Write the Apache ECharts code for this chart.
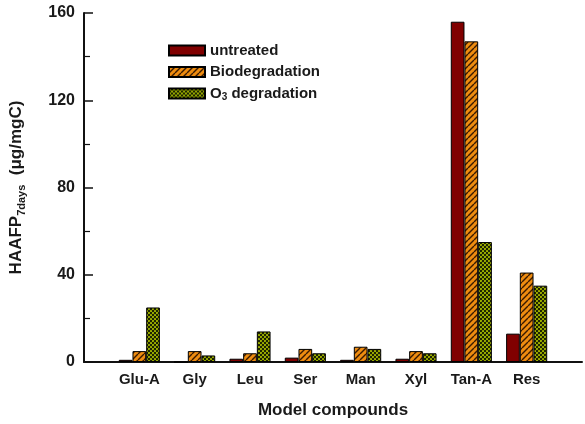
<!DOCTYPE html>
<html>
<head>
<meta charset="utf-8">
<script src="https://cdn.jsdelivr.net/npm/echarts@6/dist/echarts.min.js"></script>
<style>html,body{margin:0;padding:0;background:#fff}#c{width:585px;height:424px}</style>
</head>
<body>
<div id="c"></div>
<script>
var categories = ['Glu-A', 'Gly', 'Leu', 'Ser', 'Man', 'Xyl', 'Tan-A', 'Res'];
var untreated = [1, 0, 1.5, 2, 1, 1.5, 156, 13];
var biodegradation = [5, 5, 4, 6, 7, 5, 147, 41];
var o3degradation = [25, 3, 14, 4, 6, 4, 55, 35];
var yTicks = [0, 40, 80, 120, 160];

function stripePattern() {
  var c = document.createElement('canvas');
  c.width = 6; c.height = 6;
  var g = c.getContext('2d');
  g.fillStyle = '#ee8c10';
  g.fillRect(0, 0, 6, 6);
  g.strokeStyle = '#3a1a00';
  g.lineWidth = 1.4;
  for (var k = -6; k <= 12; k += 6) {
    g.beginPath(); g.moveTo(k, 6); g.lineTo(k + 6, 0); g.stroke();
  }
  return { image: c, repeat: 'repeat' };
}
function dotPattern() {
  var c = document.createElement('canvas');
  c.width = 4; c.height = 4;
  var g = c.getContext('2d');
  g.fillStyle = '#1e2400';
  g.fillRect(0, 0, 4, 4);
  g.fillStyle = '#a8ba00';
  g.beginPath(); g.arc(1, 1, 1.05, 0, Math.PI * 2); g.fill();
  g.beginPath(); g.arc(3, 3, 1.05, 0, Math.PI * 2); g.fill();
  return { image: c, repeat: 'repeat' };
}

var pad = function (arr) { return ['-'].concat(arr).concat(['-']); };
var xData = [''].concat(categories).concat(['']);
var font = 'Liberation Sans, Arial, sans-serif';
var txt = '#1a1a1a';

var chart = echarts.init(document.getElementById('c'), null, { renderer: 'canvas' });
var barBase = { type: 'bar', barWidth: 13.7, barGap: '0%' };
chart.setOption({
  animation: false,
  backgroundColor: '#fff',
  grid: { left: 79, right: 0, top: 13, bottom: 55.5, containLabel: false },
  legend: {
    orient: 'vertical', left: 163, top: 38,
    icon: 'rect',
    itemWidth: 36, itemHeight: 10, itemGap: 6.5,
    textStyle: { fontFamily: font, fontWeight: 'bold', fontSize: 15, color: txt,
      rich: { s: { fontFamily: font, fontWeight: 'bold', fontSize: 10, color: txt, verticalAlign: 'bottom', padding: [8, 0, 0, 0] },
              n: { fontFamily: font, fontWeight: 'bold', fontSize: 15, color: txt } } },
    formatter: function (name) {
      if (name === 'O3 degradation') return '{n|O}{s|3}{n| degradation}';
      return name;
    },
    data: ['untreated', 'Biodegradation', 'O3 degradation']
  },
  xAxis: {
    type: 'category', data: xData, boundaryGap: false,
    axisLine: { lineStyle: { color: '#111', width: 2 } },
    axisTick: { show: false },
    axisLabel: { interval: 0, margin: 10, fontFamily: font, fontWeight: 'bold', fontSize: 15, color: txt },
    name: 'Model compounds', nameLocation: 'middle', nameGap: 40,
    nameTextStyle: { fontFamily: font, fontWeight: 'bold', fontSize: 17, color: txt }
  },
  yAxis: {
    type: 'value', min: yTicks[0], max: yTicks[yTicks.length - 1], interval: 40,
    axisLine: { show: true, lineStyle: { color: '#111', width: 2 } },
    axisTick: { show: true, inside: true, length: 9, lineStyle: { color: '#111', width: 1.5 } },
    minorTick: { show: true, splitNumber: 2, length: 6, lineStyle: { color: '#111', width: 1.2 } },
    splitLine: { show: false },
    axisLabel: { margin: 9, fontFamily: font, fontWeight: 'bold', fontSize: 16, color: txt },
    name: '{a|HAAFP}{b|7days}{a|  (μg/mgC)}',
    nameLocation: 'middle', nameGap: 57, nameRotate: 90,
    nameTextStyle: { fontFamily: font, fontWeight: 'bold', fontSize: 17, color: txt,
      rich: { a: { fontFamily: font, fontWeight: 'bold', fontSize: 17, color: txt },
              b: { fontFamily: font, fontWeight: 'bold', fontSize: 11, color: txt, verticalAlign: 'bottom', padding: [10, 0, 0, 0] } } }
  },
  series: [
    Object.assign({}, barBase, { name: 'untreated', data: pad(untreated), itemStyle: { color: '#800000', borderColor: '#000', borderWidth: 1 } }),
    Object.assign({}, barBase, { name: 'Biodegradation', data: pad(biodegradation), itemStyle: { color: stripePattern(), borderColor: '#000', borderWidth: 1 } }),
    Object.assign({}, barBase, { name: 'O3 degradation', data: pad(o3degradation), itemStyle: { color: dotPattern(), borderColor: '#000', borderWidth: 1 } })
  ]
});
</script>
</body>
</html>
